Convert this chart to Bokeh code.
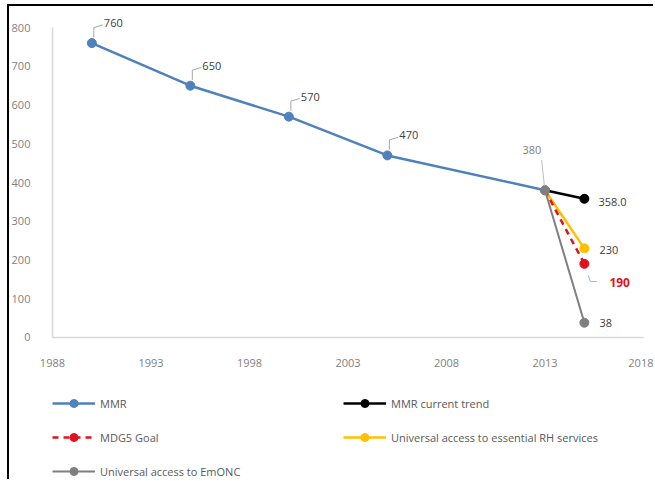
from bokeh.plotting import figure
from bokeh.models import Legend, LegendItem, FixedTicker, Range1d
from bokeh.core.properties import value
from bokeh.embed import file_html
from bokeh.resources import INLINE

# ---------------- data ----------------
mmr_years = [1990, 1995, 2000, 2005, 2013]
mmr_values = [760, 650, 570, 470, 380]
mmr_labels = ["760", "650", "570", "470"]

proj_years = [2013, 2015]
trend_values = [380, 358]      # MMR current trend
mdg_values = [380, 190]        # MDG5 Goal
rh_values = [380, 230]         # Universal access to essential RH services
emonc_values = [380, 38]       # Universal access to EmONC

trend_label = ["358.0"]
rh_label = ["230"]
mdg_label = ["190"]
emonc_label = ["38"]
start_label = ["380"]

x_ticks = [1988, 1993, 1998, 2003, 2008, 2013, 2018]
y_ticks = [0, 100, 200, 300, 400, 500, 600, 700, 800]

# ---------------- styles ----------------
FONT = "Open Sans"
BLUE = "#4F81BD"
BLACK = "#000000"
RED = "#E3101E"
YELLOW = "#FFC000"
GREY = "#7F7F7F"
TXT = "#404040"

# the frame covers the whole canvas; axes are pinned at (1988, 0)
p = figure(width=646, height=475,
           x_range=Range1d(1985.82, 2018.61), y_range=Range1d(-372, 839),
           output_backend="svg", toolbar_location=None,
           min_border_left=0, min_border_top=6,
           min_border_right=0, min_border_bottom=0)
p.styles = {"border-left": "2px solid black", "border-top": "2px solid black",
            "margin-left": "7px", "margin-top": "4px"}
p.outline_line_color = None
p.xgrid.visible = False
p.ygrid.visible = False
p.background_fill_color = "white"
p.border_fill_color = "white"

for ax in (p.xaxis[0], p.yaxis[0]):
    ax.axis_line_color = "#D9D9D9"
    ax.axis_line_width = 1.5
    ax.major_tick_line_color = None
    ax.minor_tick_line_color = None
    ax.major_label_text_font = FONT
    ax.major_label_text_font_size = "11px"
    ax.major_label_text_color = "#7F7F7F"
p.xaxis.ticker = FixedTicker(ticks=x_ticks)
p.yaxis.ticker = FixedTicker(ticks=y_ticks)
p.xaxis.fixed_location = 0
p.yaxis.fixed_location = x_ticks[0]
p.xaxis.bounds = (x_ticks[0], x_ticks[-1])
p.yaxis.bounds = (0, 800)
p.xaxis.major_label_standoff = 16
p.yaxis.major_label_standoff = 16

# ---------------- series ----------------
l_mmr = p.line(mmr_years, mmr_values, line_color=BLUE, line_width=2.5)
s_mmr = p.scatter(mmr_years, mmr_values, size=9, fill_color=BLUE, line_color=BLUE)

l_tr = p.line(proj_years, trend_values, line_color=BLACK, line_width=2.5)
s_tr = p.scatter(proj_years[1:], trend_values[1:], size=9, fill_color=BLACK, line_color=BLACK)

l_rh = p.line(proj_years, rh_values, line_color=YELLOW, line_width=2.5)
s_rh = p.scatter(proj_years[1:], rh_values[1:], size=9, fill_color=YELLOW, line_color=YELLOW)

l_mdg = p.line(proj_years, mdg_values, line_color=RED, line_width=2.5, line_dash="6 5")
s_mdg = p.scatter(proj_years[1:], mdg_values[1:], size=9, fill_color=RED, line_color=RED)

l_em = p.line(proj_years, emonc_values, line_color=GREY, line_width=2)
s_em = p.scatter(proj_years, emonc_values, size=9, fill_color=GREY, line_color=GREY)

# ---------------- leader lines ----------------
lead_xs = [[x + 0.1, x + 0.1, x + 0.55] for x in mmr_years[:4]]
lead_ys = [[y + 15, y + 40, y + 47] for y in mmr_values[:4]]
p.multi_line(lead_xs, lead_ys, line_color="#A6A6A6", line_width=1)
p.multi_line([[proj_years[0] - 0.17, proj_years[0] - 0.03]],
             [[emonc_values[0] + 78, emonc_values[0] + 12]],
             line_color="#BFBFBF", line_width=1)
p.multi_line([[proj_years[1] + 0.2, proj_years[1] + 0.3, proj_years[1] + 0.65]],
             [[mdg_values[1] - 30, mdg_values[1] - 45, mdg_values[1] - 46]],
             line_color="#9DB7D9", line_width=1)

# ---------------- data labels ----------------
common = dict(text_font=value(FONT), text_font_size="11px", text_baseline="middle")
p.text(mmr_years[:4], mmr_values[:4], text=mmr_labels, x_offset=12, y_offset=-20,
       text_align="left", text_color=TXT, **common)
p.text(proj_years[:1], emonc_values[:1], text=start_label, x_offset=-13, y_offset=-40,
       text_align="center", text_color="#7F7F7F", **common)
p.text(proj_years[1:], trend_values[1:], text=trend_label, x_offset=14, y_offset=3,
       text_align="left", text_color=TXT, **common)
p.text(proj_years[1:], rh_values[1:], text=rh_label, x_offset=15, y_offset=2,
       text_align="left", text_color=TXT, **common)
p.text(proj_years[1:], mdg_values[1:], text=mdg_label, x_offset=25, y_offset=19,
       text_align="left", text_color=RED, text_font_style="bold",
       text_font=value(FONT), text_font_size="12px", text_baseline="middle")
p.text(proj_years[1:], emonc_values[1:], text=emonc_label, x_offset=15, y_offset=0,
       text_align="left", text_color=TXT, **common)

# ---------------- legend ----------------
items = [
    LegendItem(label="MMR", renderers=[l_mmr, s_mmr]),
    LegendItem(label="MMR current trend", renderers=[l_tr, s_tr]),
    LegendItem(label="MDG5 Goal", renderers=[l_mdg, s_mdg]),
    LegendItem(label="Universal access to essential RH services", renderers=[l_rh, s_rh]),
    LegendItem(label="Universal access to EmONC", renderers=[l_em, s_em]),
]
legend = Legend(items=items, orientation="horizontal", ncols=2,
                location=(43, 0), margin=0, padding=0, spacing=14,
                label_width=229, label_height=20, glyph_width=43, glyph_height=20,
                label_standoff=5, label_text_font=FONT, label_text_font_size="11px",
                label_text_color="#595959", border_line_color=None,
                background_fill_alpha=0)
p.add_layout(legend, "center")

open("out.html", "w").write(file_html(p, INLINE))
